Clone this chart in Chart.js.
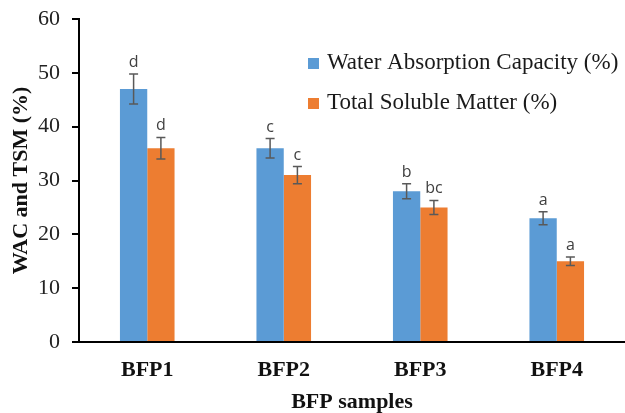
<!DOCTYPE html>
<html>
<head>
<meta charset="utf-8">
<script src="https://cdn.jsdelivr.net/npm/chart.js@4.4.0/dist/chart.umd.min.js"></script>
<style>
  html, body { margin: 0; padding: 0; background: #fff; }
  #wrap { width: 625px; height: 413px; }
</style>
</head>
<body>
<div id="wrap"><canvas id="myChart"></canvas></div>
<script>
// data
var samples = ['BFP1', 'BFP2', 'BFP3', 'BFP4'];
var wacValues = [47, 36, 28, 23];
var tsmValues = [36, 31, 25, 15];
var wacErrors = [2.8, 1.8, 1.4, 1.2];
var tsmErrors = [2.0, 1.6, 1.3, 0.8];
var wacLetters = ['d', 'c', 'b', 'a'];
var tsmLetters = ['d', 'c', 'bc', 'a'];
var seriesNames = ['Water Absorption Capacity (%)', 'Total Soluble Matter (%)'];

var serif = '"Liberation Serif", "Times New Roman", serif';

// error bars + significance letters
var errorBarPlugin = {
    id: 'errorBars',
    afterDatasetsDraw: function (chart) {
        var ctx = chart.ctx;
        var yScale = chart.scales.y;
        var errs = [wacErrors, tsmErrors];
        var letters = [wacLetters, tsmLetters];
        ctx.save();
        chart.data.datasets.forEach(function (ds, di) {
            var meta = chart.getDatasetMeta(di);
            meta.data.forEach(function (bar, i) {
                var v = ds.data[i];
                var yTop = yScale.getPixelForValue(v + errs[di][i]);
                var yBot = yScale.getPixelForValue(v - errs[di][i]);
                var x = bar.x;
                ctx.strokeStyle = '#595959';
                ctx.lineWidth = 1.5;
                ctx.beginPath();
                ctx.moveTo(x, yTop); ctx.lineTo(x, yBot);
                ctx.moveTo(x - 4.5, yTop); ctx.lineTo(x + 4.5, yTop);
                ctx.moveTo(x - 4.5, yBot); ctx.lineTo(x + 4.5, yBot);
                ctx.stroke();
                ctx.fillStyle = '#404040';
                ctx.font = '16px "Open Sans", "Noto Sans", sans-serif';
                ctx.textAlign = 'center';
                ctx.textBaseline = 'alphabetic';
                ctx.fillText(letters[di][i], x, yTop - 7);
            });
        });
        ctx.restore();
    }
};

// legend drawn in the upper right of the plot
var legendPlugin = {
    id: 'sideLegend',
    afterDraw: function (chart) {
        var ctx = chart.ctx;
        var colors = ['#5B9BD5', '#ED7D31'];
        ctx.save();
        ctx.font = '23px ' + serif;
        ctx.textBaseline = 'middle';
        ctx.textAlign = 'left';
        for (var i = 0; i < seriesNames.length; i++) {
            var y = 63 + i * 40;
            ctx.fillStyle = colors[i];
            ctx.fillRect(308, y - 5, 11, 11);
            ctx.fillStyle = '#1a1a1a';
            ctx.fillText(seriesNames[i], 327, y);
        }
        ctx.restore();
    }
};

function BuildChart() {
    var ctx = document.getElementById('myChart').getContext('2d');
    return new Chart(ctx, {
        type: 'bar',
        data: {
            labels: samples,
            datasets: [{
                label: seriesNames[0],
                data: wacValues,
                backgroundColor: '#5B9BD5',
                categoryPercentage: 0.4,
                barPercentage: 1.0
            }, {
                label: seriesNames[1],
                data: tsmValues,
                backgroundColor: '#ED7D31',
                categoryPercentage: 0.4,
                barPercentage: 1.0
            }]
        },
        options: {
            responsive: true,
            maintainAspectRatio: false,
            animation: false,
            layout: { padding: { top: 0, right: 0, left: 0, bottom: 0 } },
            plugins: {
                legend: { display: false },
                tooltip: { enabled: false }
            },
            scales: {
                x: {
                    afterFit: function (scale) { scale.height = 71; },
                    grid: { display: false, drawTicks: false },
                    border: { display: true, color: '#000', width: 2 },
                    ticks: {
                        color: '#111',
                        padding: 15,
                        font: { family: serif, size: 22, weight: 'bold' }
                    },
                    title: {
                        display: true,
                        text: 'BFP samples',
                        color: '#111',
                        padding: { top: 1, bottom: 0 },
                        font: { family: serif, size: 22, weight: 'bold', lineHeight: 1.0 }
                    }
                },
                y: {
                    afterFit: function (scale) {
                        scale.width = 79;
                        scale.paddingTop = 19;
                    },
                    min: 0,
                    max: 60,
                    ticks: {
                        stepSize: 10,
                        color: '#222',
                        padding: 12,
                        font: { family: serif, size: 22, lineHeight: 1.0 }
                    },
                    grid: {
                        drawOnChartArea: false,
                        color: '#000',
                        lineWidth: 2,
                        tickLength: 7
                    },
                    border: { display: true, color: '#000', width: 2 },
                    title: {
                        display: true,
                        text: 'WAC and TSM (%)',
                        color: '#111',
                        padding: { top: 10, bottom: 0 },
                        font: { family: serif, size: 22, weight: 'bold', lineHeight: 1.0 }
                    }
                }
            }
        },
        plugins: [errorBarPlugin, legendPlugin]
    });
}

window.onload = function () {
    BuildChart();
};
</script>
</body>
</html>
